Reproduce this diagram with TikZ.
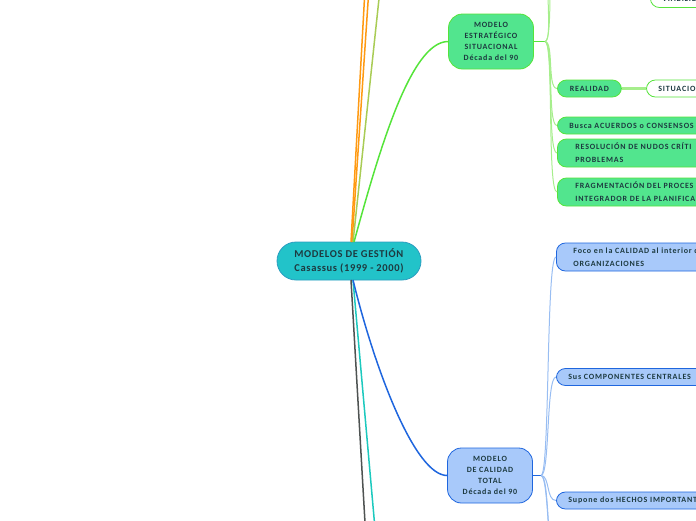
\documentclass[tikz,border=0pt]{standalone}
\usepackage{fontspec}
\setmainfont{Carlito}
\newfontfamily\mapfont[LetterSpace=10]{Carlito}
\newfontfamily\rootfont[LetterSpace=6]{Carlito}
\usetikzlibrary{positioning}
\definecolor{ink}{HTML}{1D3A40}
\definecolor{rootfill}{HTML}{22C3C9}
\definecolor{rootline}{HTML}{2A9DC0}
\definecolor{msefill}{HTML}{52E58E}
\definecolor{mseline}{HTML}{55E43A}
\definecolor{mselink}{HTML}{A6EE8C}
\definecolor{mctfill}{HTML}{A8C9FA}
\definecolor{mctline}{HTML}{1F66DE}
\definecolor{mctlink}{HTML}{98BDF2}
\definecolor{orangeb}{HTML}{FF9A12}
\definecolor{oliveb}{HTML}{A9CC55}
\definecolor{grayb}{HTML}{4E5352}
\definecolor{tealb}{HTML}{1CC9BE}

\begin{document}
\begin{tikzpicture}[x=1pt, y=-1pt,
  every node/.style={text=ink},
  root/.style={draw=rootline, fill=rootfill, rounded corners=19pt, line width=0.8pt,
    minimum width=144pt, minimum height=38pt, align=left,
    font=\fontsize{10.5}{14}\rootfont\bfseries},
  topic/.style={draw=#1line, fill=#1fill, rounded corners=14pt, line width=0.8pt,
    minimum width=85pt, minimum height=55pt, align=center,
    font=\fontsize{8}{11}\mapfont\bfseries},
  leaf/.style={draw=#1line, fill=#1fill, rounded corners=9pt, line width=0.8pt,
    anchor=west, text width=170pt, align=left, inner xsep=12pt,
    font=\fontsize{8}{13}\mapfont\bfseries},
  wide/.style={inner xsep=18pt, minimum height=28pt},
  thin/.style={minimum height=17pt, inner ysep=0pt},
  link/.style={draw=#1, line width=1pt},
  branch/.style={draw=#1, line width=1.5pt}]
  \useasboundingbox (0,0) rectangle (696,520);
  \clip (0,0) rectangle (696,520);

  % main branches
  \node[root] (root) at (349,261) {MODELOS DE GESTIÓN\\Casassus (1999 - 2000)};
  \node[topic=mse] (mse) at (491,41.5) {MODELO\\ESTRATÉGICO\\SITUACIONAL\\Década del 90};
  \node[topic=mct] (mct) at (490,475.5) {MODELO\\DE CALIDAD\\TOTAL\\Década del 90};

  \coordinate (up1) at (365.5,-20);
  \coordinate (up2) at (369.5,-20);
  \coordinate (up3) at (381,-20);
  \coordinate (dn1) at (366,540);
  \coordinate (dn2) at (376,540);
  \draw[branch=orangeb] (351,242) -- (up1);
  \draw[branch=orangeb] (352,242) -- (up2);
  \draw[branch=oliveb] (353,242) -- (up3);
  \draw[branch=grayb] (351,280) -- (dn1);
  \draw[branch=tealb] (353,280) -- (dn2);
  \draw[branch=mseline] (354,242) .. controls (378,155) and (410,41.5) .. (mse.west);
  \draw[branch=mctline] (353,280) .. controls (375,370) and (415,475.5) .. (mct.west);

  % modelo estrategico situacional
  \node[leaf=mse, thin, fill=white] (viab) at (650,-1) {VIABILID};
  \node[leaf=mse, thin, text width=40pt, align=center] (real) at (557,88.5) {REALIDAD};
  \node[leaf=mse, thin, fill=white] (situ) at (646,88.5) {SITUACIO};
  \node[leaf=mse, thin] (busca) at (557,125.5) {Busca ACUERDOS o CONSENSOS};
  \node[leaf=mse, wide] (nudos) at (557,153) {RESOLUCIÓN DE NUDOS CRÍTI\\PROBLEMAS};
  \node[leaf=mse, wide] (frag) at (557,192) {FRAGMENTACIÓN DEL PROCES\\INTEGRADOR DE LA PLANIFICA};

  \coordinate (s1) at (545,41.5);
  \coordinate (mseup1) at (552,-40);
  \coordinate (mseup2) at (556,-60);
  \draw[link=mseline] (mse.east) -- (s1);
  \foreach \n in {mseup1, mseup2, real, busca, nudos, frag}
    \draw[link=mselink] (s1) .. controls +(9,0) and +(-10,0) .. (\n.west);
  \draw[mselink, line width=3pt] (real) -- (situ);

  % modelo de calidad total
  \node[leaf=mct, wide, inner xsep=17pt] (foco) at (556,257) {Foco en la CALIDAD al interior d\\ORGANIZACIONES};
  \node[leaf=mct, thin] (comp) at (556,377) {Sus COMPONENTES CENTRALES};
  \node[leaf=mct, thin] (hechos) at (556,500.5) {Supone dos HECHOS IMPORTANT};

  \coordinate (s2) at (541,475.5);
  \coordinate (mctdn1) at (556,560);
  \coordinate (mctdn2) at (558,600);
  \draw[link=mctline] (mct.east) -- (s2);
  \foreach \n in {foco, comp, hechos, mctdn1, mctdn2}
    \draw[link=mctlink] (s2) .. controls +(9,0) and +(-10,0) .. (\n.west);
\end{tikzpicture}
\end{document}
